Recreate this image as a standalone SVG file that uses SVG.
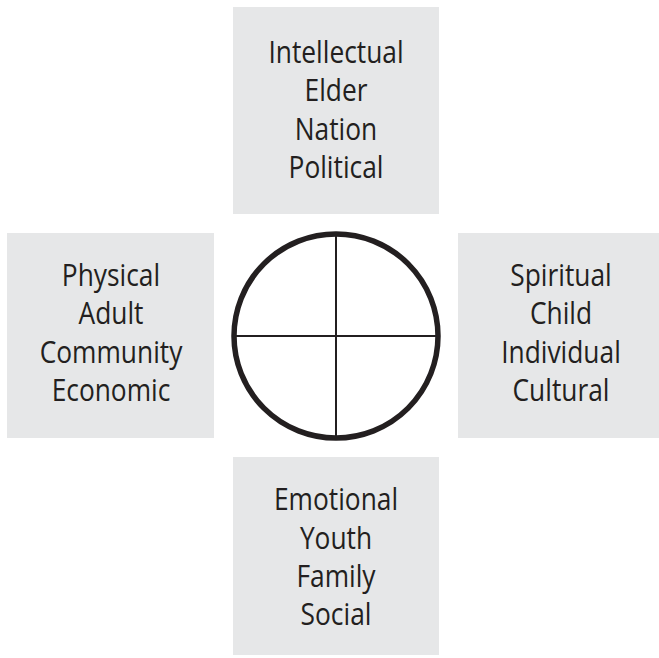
<svg xmlns="http://www.w3.org/2000/svg" width="659" height="658" viewBox="0 0 659 658">
<style>
.box{fill:#e6e7e8;stroke:none}
.t{font-family:"Open Sans","Noto Sans","Liberation Sans",sans-serif;font-size:31px;fill:#231f20;text-anchor:middle}
.ring{fill:none;stroke:#231f20;stroke-width:5.5}
.cross{stroke:#231f20;stroke-width:2;fill:none}
</style>
<rect width="659" height="658" fill="#ffffff"/>
<g id="top">
<rect class="box" x="233" y="7" width="206" height="207"/>
<g transform="translate(336 0) scale(0.85 1)">
<text class="t" x="0" y="63">Intellectual</text>
<text class="t" x="0" y="101.5">Elder</text>
<text class="t" x="0" y="140">Nation</text>
<text class="t" x="0" y="178">Political</text>
</g>
</g>
<g id="left">
<rect class="box" x="7" y="233" width="207" height="205"/>
<g transform="translate(111 0) scale(0.85 1)">
<text class="t" x="0" y="286.5">Physical</text>
<text class="t" x="0" y="324.5">Adult</text>
<text class="t" x="0" y="363">Community</text>
<text class="t" x="0" y="401.5">Economic</text>
</g>
</g>
<g id="right">
<rect class="box" x="458" y="233" width="206" height="205"/>
<g transform="translate(561 0) scale(0.85 1)">
<text class="t" x="0" y="286.5">Spiritual</text>
<text class="t" x="0" y="324.5">Child</text>
<text class="t" x="0" y="363">Individual</text>
<text class="t" x="0" y="401.5">Cultural</text>
</g>
</g>
<g id="bottom">
<rect class="box" x="233" y="457" width="206" height="198"/>
<g transform="translate(336 0) scale(0.85 1)">
<text class="t" x="0" y="510.5">Emotional</text>
<text class="t" x="0" y="549">Youth</text>
<text class="t" x="0" y="587">Family</text>
<text class="t" x="0" y="625">Social</text>
</g>
</g>
<g id="wheel">
<circle class="ring" cx="336" cy="336" r="102"/>
<line class="cross" x1="336" y1="234" x2="336" y2="438"/>
<line class="cross" x1="234" y1="336" x2="438" y2="336"/>
</g>
</svg>
